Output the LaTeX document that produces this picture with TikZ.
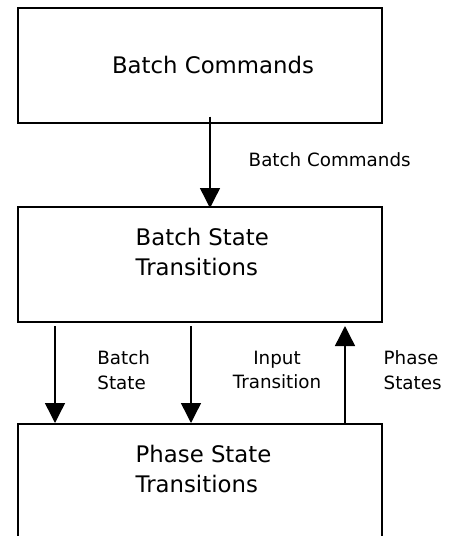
\documentclass[tikz,border=0pt]{standalone}
\usepackage{fontspec}
\setmainfont{DejaVu Sans}
\usetikzlibrary{arrows.meta, positioning}
\tikzset{
  every picture/.style={line width=1.4pt},
  box/.style={draw, line width=2pt, minimum width=364pt, minimum height=115pt, inner sep=0pt},
  boxtext/.style={font=\fontsize{22.8}{30}\selectfont, align=left, inner sep=0pt},
  flowlabel/.style={font=\fontsize{18.3}{24.5}\selectfont, inner sep=0pt},
  flow/.style={-{Triangle[length=20pt, width=20pt]}, line width=1.4pt},
}

\begin{document}
\begin{tikzpicture}[x=1pt, y=-1pt]
  \useasboundingbox (0,0) rectangle (453,536);
  \clip (0,0) rectangle (453,536);
  % three blocks, the last one runs off the bottom edge
  \node[box] (cmds) at (200,65) {};
  \node[box] (batch) at (200,264.5) {};
  \node[box] (phase) at (200,481.5) {};

  \node[boxtext] (cmdstxt) at ([xshift=13pt]cmds.center) {Batch Commands};
  \node[boxtext, anchor=west] (batchtxt) at (135,252) {Batch State\\Transitions};
  \node[boxtext, anchor=west] (phasetxt) at (135,468.5) {Phase State\\Transitions};

  % connectors between the blocks
  \draw[flow] ([xshift=10pt, yshift=7pt]cmds.south) -- ([xshift=10pt, yshift=-2pt]batch.north);
  \draw[flow] ([xshift=38pt, yshift=-3pt]batch.south west) -- ([xshift=38pt]phase.north west);
  \draw[flow] ([xshift=-9pt, yshift=-3pt]batch.south) -- ([xshift=-9pt]phase.north);
  \draw[flow] ([xshift=-38pt]phase.north east) -- ([xshift=-38pt, yshift=-3pt]batch.south east);

  \node[flowlabel, anchor=west] (cmdslbl) at (248,160) {Batch Commands};
  \node[flowlabel, anchor=west, align=left] (statelbl) at (96.7,370) {Batch\\State};
  \node[flowlabel, align=center] (inputlbl) at (277,370) {Input\\Transition};
  \node[flowlabel, anchor=west, align=left] (phaselbl) at (383,370) {Phase\\States};
\end{tikzpicture}
\end{document}
